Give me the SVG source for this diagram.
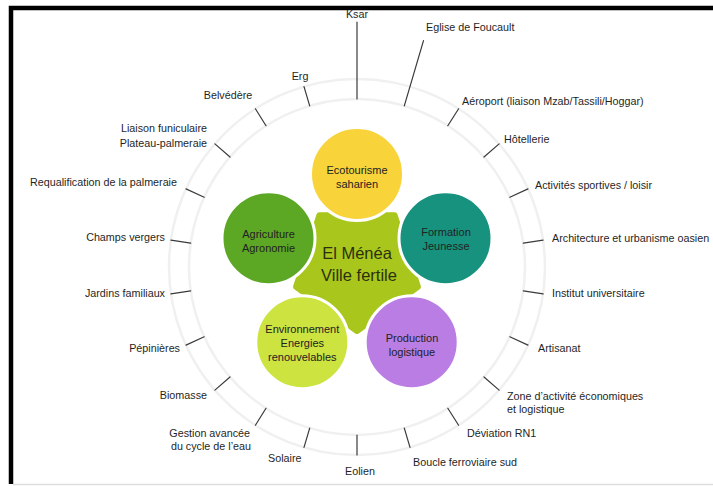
<svg xmlns="http://www.w3.org/2000/svg" width="713" height="486" viewBox="0 0 713 486">
  <style>
    .lbl { font-family: "Liberation Sans", Arial, sans-serif; font-size: 10.75px; fill: #1f1f1f; }
    .end { text-anchor: end; }
    .mid { text-anchor: middle; }
    .tick { stroke: #3a3a3a; stroke-width: 1.2; fill: none; stroke-linecap: round; }
    .ring { fill: none; stroke: #f0f0f0; stroke-width: 2.5; }
    .bubble { stroke: #ffffff; stroke-width: 3; }
    .btxt { font-family: "Liberation Sans", Arial, sans-serif; font-size: 11px; fill: #222222; text-anchor: middle; }
    .hubtxt { font-family: "Liberation Sans", Arial, sans-serif; font-size: 16.5px; fill: #2c3010; text-anchor: middle; }
  </style>

  <!-- page background and frame -->
  <rect x="0" y="0" width="713" height="486" fill="#ffffff"/>
  <path d="M11 484 V8 H713" fill="none" stroke="#000000" stroke-width="4.5"/>
  <line x1="13" y1="484.5" x2="713" y2="484.5" stroke="#dddddd" stroke-width="1.5"/>

  <!-- outer band -->
  <g id="ring">
    <circle class="ring" cx="357" cy="267" r="168"/>
    <circle class="ring" cx="357" cy="267" r="188"/>
  </g>

  <!-- leader ticks from the band to each label -->
  <g id="connectors">
    <line class="tick" x1="357" y1="99" x2="357" y2="22"/>
    <line class="tick" x1="404.3" y1="105.8" x2="423.5" y2="40.6"/>
    <line class="tick" x1="447.8" y1="125.7" x2="458.6" y2="108.8"/>
    <line class="tick" x1="484.0" y1="157.0" x2="499.1" y2="143.9"/>
    <line class="tick" x1="509.8" y1="197.2" x2="528.0" y2="188.9"/>
    <line class="tick" x1="523.3" y1="243.1" x2="543.1" y2="240.2"/>
    <line class="tick" x1="523.3" y1="290.9" x2="543.1" y2="293.8"/>
    <line class="tick" x1="509.8" y1="336.8" x2="528.0" y2="345.1"/>
    <line class="tick" x1="484.0" y1="377.0" x2="499.1" y2="390.1"/>
    <line class="tick" x1="447.8" y1="408.3" x2="458.6" y2="425.2"/>
    <line class="tick" x1="404.3" y1="428.2" x2="410.0" y2="447.4"/>
    <line class="tick" x1="357" y1="435" x2="357" y2="455"/>
    <line class="tick" x1="309.7" y1="428.2" x2="304.0" y2="447.4"/>
    <line class="tick" x1="266.0" y1="408.3" x2="255.4" y2="425.2"/>
    <line class="tick" x1="230.0" y1="377.0" x2="214.9" y2="390.1"/>
    <line class="tick" x1="204.2" y1="336.8" x2="186.0" y2="345.1"/>
    <line class="tick" x1="190.7" y1="290.9" x2="170.9" y2="293.8"/>
    <line class="tick" x1="190.7" y1="243.1" x2="170.9" y2="240.2"/>
    <line class="tick" x1="204.2" y1="197.2" x2="186.0" y2="188.9"/>
    <line class="tick" x1="230.0" y1="157.0" x2="214.9" y2="143.9"/>
    <line class="tick" x1="266.0" y1="125.7" x2="255.4" y2="108.8"/>
    <line class="tick" x1="309.7" y1="105.8" x2="304.0" y2="86.6"/>
  </g>

  <!-- central hub -->
  <g id="hub">
    <polygon points="394.6,215.2 417.9,286.8 357,331 296.1,286.8 319.4,215.2" fill="#a8c61c" stroke="#a8c61c" stroke-width="6" stroke-linejoin="round"/>
  </g>

  <!-- five themes around the hub -->
  <g id="ecotourisme">
    <circle class="bubble" cx="357" cy="174" r="46.5" fill="#f8d43a"/>
    <text class="btxt" x="357" y="174">Ecotourisme</text>
    <text class="btxt" x="357" y="188">saharien</text>
  </g>
  <g id="agriculture">
    <circle class="bubble" cx="268.5" cy="238.3" r="46.5" fill="#5ca724"/>
    <text class="btxt" x="268.5" y="238">Agriculture</text>
    <text class="btxt" x="268.5" y="252">Agronomie</text>
  </g>
  <g id="formation">
    <circle class="bubble" cx="445.5" cy="238.3" r="46.5" fill="#17927f"/>
    <text class="btxt" x="446" y="236">Formation</text>
    <text class="btxt" x="446" y="250">Jeunesse</text>
  </g>
  <g id="environnement">
    <circle class="bubble" cx="302.3" cy="342.2" r="46.5" fill="#cde340"/>
    <text class="btxt" x="302.3" y="333">Environnement</text>
    <text class="btxt" x="302.3" y="347">Energies</text>
    <text class="btxt" x="302.3" y="361">renouvelables</text>
  </g>
  <g id="production">
    <circle class="bubble" cx="411.7" cy="342.2" r="46.5" fill="#b97de3"/>
    <text class="btxt" x="412" y="342">Production</text>
    <text class="btxt" x="412" y="356">logistique</text>
  </g>

  <g id="hub-title">
    <text class="hubtxt" x="357" y="259">El Ménéa</text>
    <text class="hubtxt" x="359" y="281">Ville fertile</text>
  </g>

  <!-- outer labels, clockwise from the top -->
  <g id="ksar"><text class="lbl mid" x="357" y="18">Ksar</text></g>
  <g id="eglise"><text class="lbl" x="426" y="31">Eglise de Foucault</text></g>
  <g id="aeroport"><text class="lbl" x="462" y="105">Aéroport (liaison Mzab/Tassili/Hoggar)</text></g>
  <g id="hotellerie"><text class="lbl" x="504" y="143">Hôtellerie</text></g>
  <g id="activites"><text class="lbl" x="535" y="189">Activités sportives / loisir</text></g>
  <g id="architecture"><text class="lbl" x="552" y="242">Architecture et urbanisme oasien</text></g>
  <g id="institut"><text class="lbl" x="552" y="297">Institut universitaire</text></g>
  <g id="artisanat"><text class="lbl" x="538" y="352">Artisanat</text></g>
  <g id="zone">
    <text class="lbl" x="507" y="400">Zone d’activité économiques</text>
    <text class="lbl" x="507" y="413">et logistique</text>
  </g>
  <g id="deviation"><text class="lbl" x="467" y="437">Déviation RN1</text></g>
  <g id="boucle"><text class="lbl" x="413" y="466">Boucle ferroviaire sud</text></g>
  <g id="eolien"><text class="lbl mid" x="360" y="475">Eolien</text></g>
  <g id="solaire"><text class="lbl" x="268" y="462">Solaire</text></g>
  <g id="gestion">
    <text class="lbl end" x="250" y="437">Gestion avancée</text>
    <text class="lbl end" x="251" y="450">du cycle de l’eau</text>
  </g>
  <g id="biomasse"><text class="lbl end" x="207" y="399">Biomasse</text></g>
  <g id="pepinieres"><text class="lbl end" x="180" y="352">Pépinières</text></g>
  <g id="jardins"><text class="lbl end" x="165" y="297">Jardins familiaux</text></g>
  <g id="champs"><text class="lbl end" x="165" y="241">Champs vergers</text></g>
  <g id="requalification"><text class="lbl end" x="177" y="186">Requalification de la palmeraie</text></g>
  <g id="liaison">
    <text class="lbl end" x="207" y="132">Liaison funiculaire</text>
    <text class="lbl end" x="207" y="147">Plateau-palmeraie</text>
  </g>
  <g id="belvedere"><text class="lbl mid" x="228" y="99">Belvédère</text></g>
  <g id="erg"><text class="lbl mid" x="300" y="80">Erg</text></g>
</svg>
